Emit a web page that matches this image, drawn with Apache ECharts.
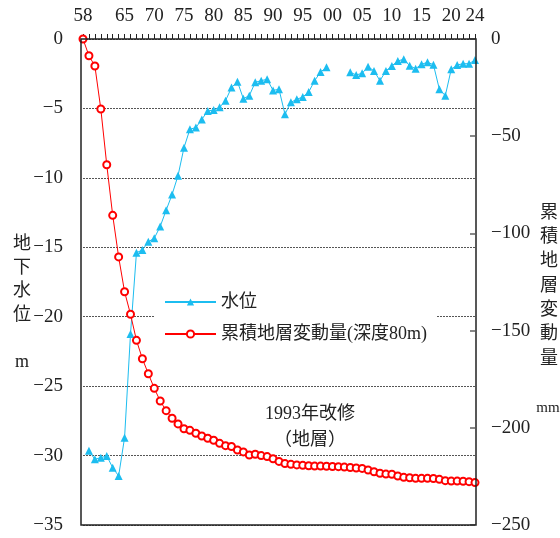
<!DOCTYPE html>
<html><head><meta charset="utf-8">
<script src="https://cdn.jsdelivr.net/npm/echarts@6/dist/echarts.min.js"></script>
<style>html,body{margin:0;padding:0;background:#fff}#c{width:560px;height:538px}</style>
</head><body><div id="c"></div>
<script>
// ---- data ----
var years = [];
for (var y = 1958; y <= 2024; y++) years.push(y);
var waterYears = [1959,1960,1961,1962,1963,1964,1965,1966,1967,1968,1969,1970,1971,1972,1973,1974,1975,1976,1977,1978,1979,1980,1981,1982,1983,1984,1985,1986,1987,1988,1989,1990,1991,1992,1993,1994,1995,1996,1997,1998,1999,2000,2001,2002,2003,2004,2005,2006,2007,2008,2009,2010,2011,2012,2013,2014,2015,2016,2017,2018,2019,2020,2021,2022,2023,2024];
var waterLevel = [-29.65,-30.27,-30.15,-30.03,-30.87,-31.47,-28.71,-21.24,-15.39,-15.2,-14.6,-14.35,-13.5,-12.33,-11.2,-9.84,-7.83,-6.5,-6.38,-5.79,-5.19,-5.11,-4.92,-4.44,-3.5,-3.07,-4.3,-4.08,-3.12,-3.0,-2.9,-3.7,-3.62,-5.42,-4.56,-4.34,-4.18,-3.82,-3.0,-2.38,-2.04,null,null,null,-2.40,-2.59,-2.47,-1.99,-2.30,-3.0,-2.30,-1.94,-1.58,-1.46,-1.92,-2.14,-1.82,-1.68,-1.85,-3.62,-4.08,-2.18,-1.87,-1.78,-1.78,-1.51];
var subsidence = [0,-8.6,-13.9,-36.0,-64.7,-90.7,-112.1,-130.0,-141.6,-155.0,-164.5,-172.2,-179.7,-186.2,-191.2,-195.1,-198.0,-200.5,-201.3,-202.8,-204.2,-205.4,-206.4,-208.0,-209.2,-209.6,-211.4,-212.4,-214.0,-213.6,-214.3,-214.8,-215.9,-217.3,-218.4,-218.8,-219.1,-219.3,-219.5,-219.7,-219.7,-219.8,-219.9,-220.0,-220.2,-220.4,-220.7,-220.9,-221.7,-222.6,-223.4,-223.8,-223.9,-224.8,-225.5,-225.7,-226.0,-226.0,-226.0,-226.1,-226.5,-227.2,-227.4,-227.4,-227.5,-227.7,-228.2];
var xLabelYears = [1958,1965,1970,1975,1980,1985,1990,1995,2000,2005,2010,2015,2020,2024];
var seriesNames = ['水位','累積地層変動量(深度80m)'];
var leftAxisName = ['地','下','水','位','','m'];
var rightAxisName = ['累','積','地','層','変','動','量'];
var rightAxisUnit = 'mm';
var noteLines = ['1993年改修','（地層）'];

var FONT = '"Liberation Serif","Noto Sans CJK JP",serif';
function minus(v){ return v < 0 ? '\u2212' + Math.abs(v) : String(v); }

var chart = echarts.init(document.getElementById('c'));
var graphics = [
  {type:'rect', shape:{x:81,y:39,width:395,height:486}, style:{fill:'none',stroke:'#222',lineWidth:1.5}, z:50, silent:true},
  {type:'text', x:22, y:233, style:{text:leftAxisName.join('\n'), font:'18px '+FONT, fill:'#222', align:'center', verticalAlign:'top', lineHeight:23.5}, z:60},
  {type:'text', x:549, y:201, style:{text:rightAxisName.join('\n'), font:'18px '+FONT, fill:'#222', align:'center', verticalAlign:'top', lineHeight:24.3}, z:60},
  {type:'text', x:548, y:408, style:{text:rightAxisUnit, font:'15px '+FONT, fill:'#222', align:'center', verticalAlign:'middle'}, z:60},
  {type:'text', x:310, y:414, style:{text:noteLines[0], font:'18px '+FONT, fill:'#222', align:'center', verticalAlign:'middle'}, z:60},
  {type:'text', x:310, y:440, style:{text:noteLines[1], font:'18px '+FONT, fill:'#222', align:'center', verticalAlign:'middle'}, z:60}
];

chart.setOption({
  animation:false,
  backgroundColor:'#fff',
  textStyle:{fontFamily:FONT},
  grid:{left:83, right:85, top:39, bottom:13, containLabel:false},
  legend:{
    orient:'vertical', left:155, top:279, padding:[14,9,14,9],
    backgroundColor:'#fff', itemWidth:51, itemHeight:9, itemGap:14,
    textStyle:{fontSize:18, fontFamily:FONT, color:'#222', lineHeight:18},
    data:seriesNames, z:20
  },
  xAxis:{
    type:'value', position:'top', min:1958, max:2024, interval:1,
    axisLine:{show:false},
    axisTick:{show:true, inside:false, length:5, lineStyle:{color:'#222', width:1}},
    axisLabel:{margin:13, fontSize:19, fontFamily:FONT, color:'#222',
      formatter:function(v){ return xLabelYears.indexOf(v) >= 0 ? String(v%100).padStart(2,'0') : ''; }},
    splitLine:{show:false}
  },
  yAxis:[
    {type:'value', min:-35, max:0, interval:5, position:'left',
      axisLine:{show:false}, axisTick:{show:false},
      axisLabel:{margin:20, fontSize:19, fontFamily:FONT, color:'#222', formatter:minus},
      splitLine:{show:true, lineStyle:{color:'#555', type:[2,1], width:1}}},
    {type:'value', min:-250, max:0, interval:50, position:'right',
      axisLine:{show:false},
      axisTick:{show:true, inside:true, length:5, lineStyle:{color:'#888', width:2}},
      axisLabel:{margin:16, fontSize:19, fontFamily:FONT, color:'#222', formatter:minus},
      splitLine:{show:false}}
  ],
  series:[
    {name:seriesNames[0], type:'line', yAxisIndex:0,
      data:waterYears.map(function(y,i){ return [y, waterLevel[i]]; }),
      symbol:'triangle', symbolSize:8, connectNulls:false,
      lineStyle:{color:'#1cbdf0', width:1},
      itemStyle:{color:'#1cbdf0'}, z:3},
    {name:seriesNames[1], type:'line', yAxisIndex:1,
      data:years.map(function(y,i){ return [y, subsidence[i]]; }),
      symbol:'circle', symbolSize:7,
      lineStyle:{color:'#ff0000', width:1},
      itemStyle:{color:'#fff', borderColor:'#ff0000', borderWidth:2}, z:4}
  ],
  graphic:graphics
});
</script>
</body></html>
